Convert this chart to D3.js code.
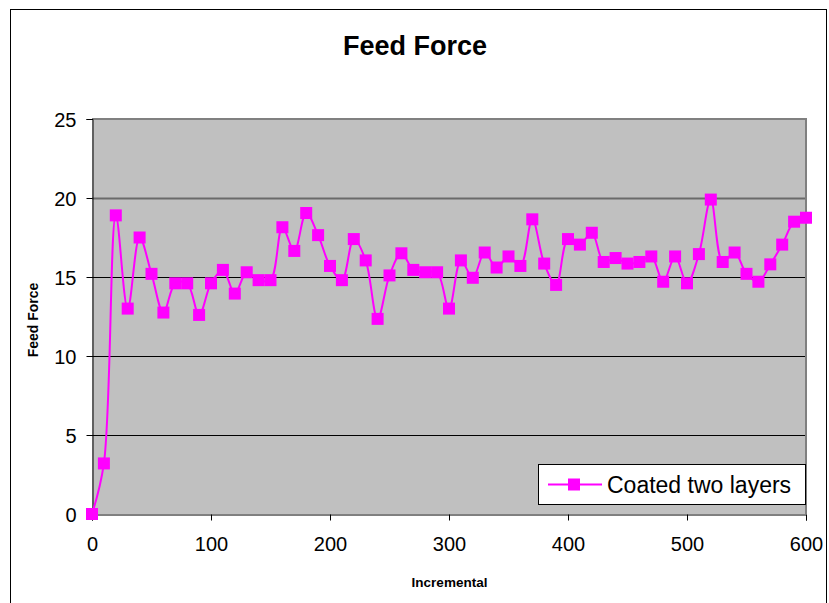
<!DOCTYPE html>
<html>
<head>
<meta charset="utf-8">
<script src="https://cdn.jsdelivr.net/npm/d3@7/dist/d3.min.js"></script>
<style>
  html, body { margin: 0; padding: 0; background: #fff; }
  svg { display: block; font-family: "Liberation Sans", Arial, sans-serif; }
</style>
</head>
<body>
<svg id="chart" width="829" height="603"></svg>
<script>
// Feed force measurements, sampled every 10 increments
const increments = [0, 10, 20, 30, 40, 50, 60, 70, 80, 90,
  100, 110, 120, 130, 140, 150, 160, 170, 180, 190,
  200, 210, 220, 230, 240, 250, 260, 270, 280, 290,
  300, 310, 320, 330, 340, 350, 360, 370, 380, 390,
  400, 410, 420, 430, 440, 450, 460, 470, 480, 490,
  500, 510, 520, 530, 540, 550, 560, 570, 580, 590, 600];
const feedForce = [0, 3.2, 18.9, 13.0, 17.5, 15.2, 12.75, 14.6, 14.6, 12.6,
  14.6, 15.45, 13.95, 15.3, 14.8, 14.8, 18.15, 16.65, 19.05, 17.65,
  15.7, 14.8, 17.4, 16.05, 12.35, 15.1, 16.5, 15.45, 15.3, 15.3,
  13.0, 16.05, 14.95, 16.55, 15.6, 16.3, 15.7, 18.65, 15.85, 14.5,
  17.4, 17.05, 17.8, 15.95, 16.2, 15.85, 15.95, 16.3, 14.7, 16.3,
  14.6, 16.45, 19.9, 15.95, 16.55, 15.2, 14.7, 15.8, 17.05, 18.5, 18.75];
const seriesName = "Coated two layers";
const xTicks = [0, 100, 200, 300, 400, 500, 600];
const yTicks = [0, 5, 10, 15, 20, 25];

const svg = d3.select("#chart");
const plot = { left: 92, right: 806, top: 119, bottom: 514 };
const magenta = "#ff00ff";

const x = d3.scaleLinear().domain([0, 600]).range([plot.left, plot.right]);
const y = d3.scaleLinear().domain([0, 25]).range([plot.bottom, plot.top]);

// outer chart frame
svg.append("rect")
  .attr("x", 10.5).attr("y", 9.5)
  .attr("width", 816).attr("height", 600)
  .attr("fill", "#fff").attr("stroke", "#000").attr("stroke-width", 1);

// title
svg.append("text")
  .attr("x", 415).attr("y", 55)
  .attr("text-anchor", "middle")
  .attr("font-size", 27).attr("font-weight", "bold")
  .text("Feed Force");

// plot background
svg.append("rect")
  .attr("x", plot.left).attr("y", plot.top)
  .attr("width", plot.right - plot.left).attr("height", plot.bottom - plot.top)
  .attr("fill", "#c0c0c0");

// horizontal gridlines
svg.append("g")
  .selectAll("line")
  .data(yTicks.filter(d => d > 0 && d < 25))
  .join("line")
  .attr("x1", plot.left).attr("x2", plot.right)
  .attr("y1", d => Math.round(y(d)) + 0.5).attr("y2", d => Math.round(y(d)) + 0.5)
  .attr("stroke", d => d === 20 ? "#6a6a6a" : "#000")
  .attr("stroke-width", d => d === 20 ? 2 : 1);

// top and right borders of the plot area
svg.append("path")
  .attr("d", `M${plot.left},${plot.top} H${plot.right} V${plot.bottom}`)
  .attr("fill", "none").attr("stroke", "#808080").attr("stroke-width", 2);

// axes
const yAxis = d3.axisLeft(y).tickValues(yTicks).tickSize(6).tickPadding(10).tickFormat(d3.format("d"));
const xAxis = d3.axisBottom(x).tickValues(xTicks).tickSize(6).tickPadding(16).tickFormat(d3.format("d"));

const gy = svg.append("g").attr("transform", `translate(${plot.left + 0.5},0)`).call(yAxis);
const gx = svg.append("g").attr("transform", `translate(0,${plot.bottom + 0.5})`).call(xAxis);
[gx, gy].forEach(g => {
  g.select(".domain").attr("stroke", "#000");
  g.selectAll(".tick line").attr("stroke", "#000");
  g.selectAll(".tick text").attr("font-size", 20).attr("fill", "#000")
    .attr("font-family", "Liberation Sans, Arial, sans-serif");
});
gy.selectAll(".tick text").attr("dy", "0.36em");

// axis titles
svg.append("text")
  .attr("transform", "translate(38,320) rotate(-90)")
  .attr("text-anchor", "middle")
  .attr("font-size", 14).attr("font-weight", "bold")
  .text("Feed Force");
svg.append("text")
  .attr("x", 449.5).attr("y", 587)
  .attr("text-anchor", "middle")
  .attr("font-size", 13.5).attr("font-weight", "bold")
  .text("Incremental");

// smoothed series line
const points = increments.map((v, i) => [v, feedForce[i]]);
const line = d3.line()
  .x(d => x(d[0])).y(d => y(d[1]))
  .curve(d3.curveCatmullRom.alpha(0.5));
svg.append("path")
  .datum(points)
  .attr("d", line)
  .attr("fill", "none").attr("stroke", magenta).attr("stroke-width", 2);

// square markers
const ms = 12;
svg.append("g")
  .selectAll("rect")
  .data(points)
  .join("rect")
  .attr("x", d => x(d[0]) - ms / 2).attr("y", d => y(d[1]) - ms / 2)
  .attr("width", ms).attr("height", ms)
  .attr("fill", magenta);

// legend
const lg = svg.append("g");
lg.append("rect")
  .attr("x", 538.5).attr("y", 464.5).attr("width", 267).attr("height", 40)
  .attr("fill", "#fff").attr("stroke", "#000").attr("stroke-width", 1);
lg.append("line")
  .attr("x1", 548).attr("x2", 602).attr("y1", 484.5).attr("y2", 484.5)
  .attr("stroke", magenta).attr("stroke-width", 2);
lg.append("rect")
  .attr("x", 574 - ms / 2).attr("y", 484.5 - ms / 2).attr("width", ms).attr("height", ms)
  .attr("fill", magenta);
lg.append("text")
  .attr("x", 607).attr("y", 492.5)
  .attr("font-size", 23)
  .text(seriesName);
</script>
</body>
</html>
